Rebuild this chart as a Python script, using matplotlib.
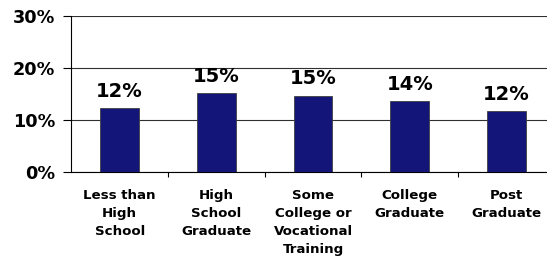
import matplotlib
matplotlib.use("Agg")
import matplotlib.pyplot as plt
from matplotlib.ticker import FixedLocator, PercentFormatter

CATEGORIES = ["Less than\nHigh\nSchool", "High\nSchool\nGraduate",
              "Some\nCollege or\nVocational\nTraining", "College\nGraduate",
              "Post\nGraduate"]
VALUES = [12.3, 15.2, 14.7, 13.6, 11.7]
VALUE_LABELS = ["12%", "15%", "15%", "14%", "12%"]
Y_TICKS = [0, 10, 20, 30]

BAR_COLOR = "#131579"

# the original text is wide, DejaVu bold matches its proportions best
plt.rcParams["font.family"] = ["DejaVu Sans"]
plt.rcParams["font.weight"] = "bold"

fig = plt.figure(figsize=(5.47, 2.63), dpi=100)
ax = fig.add_axes([0.1303, 0.346, 0.884, 0.593])

xs = list(range(len(VALUES)))
ax.bar(xs, VALUES, width=0.4, color=BAR_COLOR, edgecolor="#404040",
       linewidth=0.6, zorder=3)

for x, v, lab in zip(xs, VALUES, VALUE_LABELS):
    ax.annotate(lab, (x, v), xytext=(0, 8), textcoords="offset points",
                ha="center", va="baseline", fontsize=14, fontweight="bold")

ax.set_xlim(-0.5, len(VALUES) - 0.5)
ax.set_ylim(0, 30)
ax.set_yticks(Y_TICKS)
ax.yaxis.set_major_formatter(PercentFormatter(decimals=0))
ax.grid(axis="y", color="#303030", linewidth=0.8, zorder=0)

ax.set_xticks(xs)
ax.set_xticklabels(CATEGORIES, fontsize=9.6, fontweight="bold", linespacing=1.5)
ax.xaxis.set_minor_locator(FixedLocator([x + 0.5 for x in xs]))
ax.tick_params(axis="x", which="major", length=0, pad=12.5)
ax.tick_params(axis="x", which="minor", length=3.5, width=0.8, direction="out")
ax.tick_params(axis="y", length=5.8, width=0.8, pad=5.8, labelsize=12.7)
for t in ax.get_yticklabels():
    t.set_fontweight("bold")

for side in ["top", "right"]:
    ax.spines[side].set_visible(False)
ax.spines["left"].set_linewidth(0.8)
ax.spines["bottom"].set_linewidth(0.8)

fig.savefig("out.png", dpi=100)
